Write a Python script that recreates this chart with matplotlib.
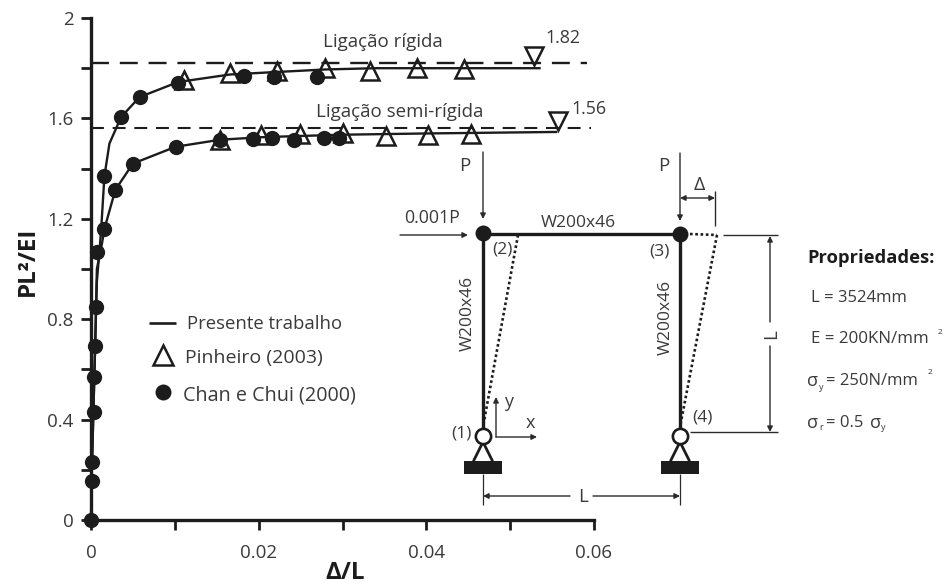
import matplotlib
matplotlib.use("Agg")
import matplotlib.pyplot as plt

plt.rcParams['font.family'] = ['Open Sans', 'DejaVu Sans']
INK = '#2b2b2b'
TXT = '#3a3a3a'
BLK = '#1c1c1c'

# Curves (Presente trabalho)
rigid_x = [0, .0001, .0003, .0005, .0007, .0012, .0016, .0022, .0036, .0058, .0104, .0166, .0222, .028, .034, .0445, .0535]
rigid_y = [0, .2, .45, .7, .95, 1.15, 1.37, 1.5, 1.606, 1.685, 1.745, 1.775, 1.785, 1.795, 1.80, 1.80, 1.80]
semi_x = [0, .0001, .0003, .0005, .0007, .0013, .0016, .0029, .005, .0101, .0154, .0203, .025, .03, .04, .0555]
semi_y = [0, .2, .45, .7, 1.0, 1.1, 1.16, 1.315, 1.42, 1.487, 1.515, 1.525, 1.53, 1.535, 1.54, 1.546]

# Pinheiro (2003)
tri_rigid_x = [.0111, .0166, .0222, .0279, .0333, .0389, .0445]
tri_rigid_y = [1.753, 1.78, 1.789, 1.80, 1.789, 1.80, 1.797]
tri_semi_x = [.0154, .0203, .0249, .0301, .0352, .0402, .0453]
tri_semi_y = [1.514, 1.534, 1.538, 1.54, 1.53, 1.534, 1.538]

# Chan e Chui (2000)
chan_x = [0, .0001, .0001, .0003, .0004, .0005, .0006, .0007, .0016, .0016, .0029, .0036, .005, .0058,
          .0101, .0104, .0154, .0183, .0193, .0216, .0218, .0242, .027, .0278, .0296]
chan_y = [0, .155, .23, .43, .57, .693, .85, 1.067, 1.16, 1.37, 1.315, 1.606, 1.42, 1.685,
          1.487, 1.74, 1.514, 1.769, 1.517, 1.52, 1.765, 1.514, 1.765, 1.522, 1.52]

# Limit loads
limit_values = [1.82, 1.56]
limit_end = [.0592, .0596]
limit_marker_x = [.0529, .0557]
limit_marker_y = [1.85, 1.59]

x_ticks = [0, .01, .02, .03, .04, .05, .06]
x_labels = ['0', '', '0.02', '', '0.04', '', '0.06']
y_ticks = [0, .2, .4, .6, .8, 1.0, 1.2, 1.4, 1.6, 1.8, 2.0]
y_labels = ['0', '', '0.4', '', '0.8', '', '1.2', '', '1.6', '', '2']

W, H = 952, 584
fig = plt.figure(figsize=(W / 100, H / 100), dpi=100, facecolor='white')
ax = fig.add_axes([91 / W, 1 - 520 / H, 503 / W, 502 / H])
ax.set_xlim(0, .06)
ax.set_ylim(0, 2)
for s in ('top', 'right'):
    ax.spines[s].set_visible(False)
for s in ('left', 'bottom'):
    ax.spines[s].set_linewidth(2.4)
    ax.spines[s].set_color(BLK)
ax.set_xticks(x_ticks, x_labels)
ax.set_yticks(y_ticks, y_labels)
ax.tick_params(axis='both', length=7.5, width=2.0, color=BLK, labelsize=13.5, labelcolor=TXT)
ax.tick_params(axis='x', pad=10)
ax.tick_params(axis='y', pad=5)

ax.plot(rigid_x, rigid_y, color=BLK, lw=1.7, clip_on=False, zorder=3)
ax.plot(semi_x, semi_y, color=BLK, lw=1.7, clip_on=False, zorder=3)
ax.plot([0, limit_end[0]], [limit_values[0]] * 2, color=BLK, lw=1.7, dashes=(7.6, 4.6), zorder=2)
ax.plot([0, limit_end[1]], [limit_values[1]] * 2, color=BLK, lw=1.5, dashes=(6.2, 4.2), zorder=2)
ax.plot(tri_rigid_x, tri_rigid_y, ls='none', marker='^', ms=13, mfc='none', mec=BLK, mew=1.8, zorder=4)
ax.plot(tri_semi_x, tri_semi_y, ls='none', marker='^', ms=13, mfc='none', mec=BLK, mew=1.8, zorder=4)
ax.plot(chan_x, chan_y, ls='none', marker='o', ms=11, mfc=BLK, mec=BLK, mew=0, clip_on=False, zorder=5)
ax.plot(limit_marker_x, limit_marker_y, ls='none', marker='v', ms=13, mfc='none', mec=BLK, mew=1.8, zorder=4)

# Overlay in pixel coordinates for the annotations and the frame schematic
ov = fig.add_axes([0, 0, 1, 1], facecolor='none')
ov.set_xlim(0, W)
ov.set_ylim(H, 0)
ov.axis('off')


def t(x, y, s, size=12, **kw):
    kw.setdefault('ha', 'center')
    kw.setdefault('va', 'center')
    kw.setdefault('color', TXT)
    ov.text(x, y, s, fontsize=size, **kw)


def seg(xs, ys, lw=1.0, color=INK, **kw):
    ov.plot(xs, ys, color=color, lw=lw, solid_capstyle='butt', **kw)


def arrow(x0, y0, x1, y1, both=False):
    ov.annotate('', xy=(x1, y1), xytext=(x0, y0),
                arrowprops=dict(arrowstyle='<|-|>' if both else '-|>', color=INK, lw=1.0,
                                mutation_scale=8, shrinkA=0, shrinkB=0))


# Axis titles
t(28, 261, 'PL²/EI', 17.5, rotation=90, fontweight='bold', color=BLK)
t(345, 573, 'Δ/L', 17.5, fontweight='bold', color=BLK)

# Curve annotations
t(383, 42, 'Ligação rígida', 13.5)
t(400, 112, 'Ligação semi-rígida', 13.5)
t(563, 38, '1.82', 12.8)
t(589, 109, '1.56', 12.8)

# Legend
seg([149, 176], [323, 323], lw=1.9, color=BLK)
t(187, 324, 'Presente trabalho', 13.3, ha='left')
ov.plot([163], [355], marker='^', ms=15, mfc='none', mec=BLK, mew=1.8)
t(185, 358, 'Pinheiro (2003)', 14, ha='left')
ov.plot([163], [392], marker='o', ms=11.5, mfc=BLK, mew=0)
t(183, 395, 'Chan e Chui (2000)', 14.2, ha='left')

# Frame
seg([483, 483], [234, 428], lw=2.4, color=BLK)
seg([680, 680], [234, 428], lw=2.4, color=BLK)
seg([483, 680], [234, 234], lw=2.4, color=BLK)
ov.plot([518, 483], [235, 427], color=BLK, lw=1.9, ls=(0, (1, 1)))
ov.plot([717, 680], [235, 427], color=BLK, lw=1.9, ls=(0, (1, 1)))
ov.plot([690, 717], [234, 235], color=BLK, lw=1.9, ls=(0, (1, 1)))
ov.plot([483, 680], [233, 234], ls='none', marker='o', ms=11.5, mfc=BLK, mew=0, zorder=5)

# Supports
for cx in (483, 680):
    ov.plot([cx - 9, cx, cx + 9], [460, 442, 460], color=BLK, lw=2.0, solid_joinstyle='miter')
    ov.fill([cx - 19, cx + 19, cx + 19, cx - 19], [461, 461, 474, 474], color=BLK, lw=0)
    ov.plot([cx], [436], marker='o', ms=11, mfc='white', mec=BLK, mew=1.9, zorder=5)
    seg([cx, cx], [474, 505], lw=0.9)

# Dimension lines and loads
arrow(483, 152, 483, 219)
arrow(680, 153, 680, 221)
arrow(400, 235, 468, 235)
arrow(680, 198, 715, 198, both=True)
seg([715, 715], [191, 226])
seg([723, 778], [235, 235])
seg([690, 778], [432, 432])
arrow(770, 322, 770, 236)
arrow(770, 346, 770, 432)
arrow(570, 496, 483, 496)
arrow(593, 496, 680, 496)
arrow(496, 437, 496, 397)
arrow(496, 437, 537, 437)

# Frame labels
t(465, 166, 'P', 13.5)
t(664, 166, 'P', 13.5)
t(699, 185, 'Δ', 14)
t(432, 218, '0.001P', 12.8)
t(578, 223, 'W200x46', 12.5)
t(468, 313, 'W200x46', 12.5, rotation=90)
t(666, 317, 'W200x46', 12.5, rotation=90)
t(502, 250, '(2)', 12.5)
t(659, 252, '(3)', 12.5)
t(461, 433, '(1)', 12.5)
t(702, 418, '(4)', 12.5)
t(509, 402, 'y', 13)
t(530, 423, 'x', 13)
t(771, 334, 'L', 13.5, rotation=90)
t(583, 497, 'L', 13.5)

# Properties
t(807, 258, 'Propriedades:', 13.2, ha='left', fontweight='bold', color=BLK)
t(811, 298, 'L = 3524mm', 12, ha='left')
t(811, 339, 'E = 200KN/mm', 12.2, ha='left')
t(940, 333, '2', 6)
t(807, 381, 'σ', 13, ha='left')
t(819, 387, 'y', 6.5, ha='left')
t(826, 381, '= 250N/mm', 12, ha='left')
t(930, 373, '2', 6)
t(807, 423, 'σ', 13, ha='left')
t(819, 428, 'r', 6.5, ha='left')
t(826, 423, '= 0.5', 12, ha='left')
t(870, 423, 'σ', 13, ha='left')
t(881, 428, 'y', 6.5, ha='left')

fig.savefig('out.png', dpi=100)
